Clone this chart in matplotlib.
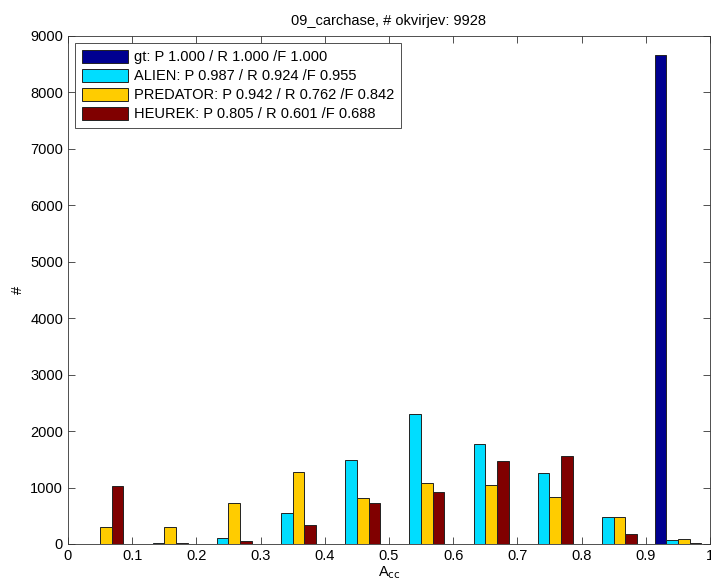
import numpy as np
import matplotlib
matplotlib.use("Agg")
import matplotlib.pyplot as plt

plt.rcParams['font.family'] = ['Liberation Sans', 'DejaVu Sans']

# --- data ------------------------------------------------------------------
bin_centers = [0.05, 0.15, 0.25, 0.35, 0.45, 0.55, 0.65, 0.75, 0.85, 0.95]
gt = [0, 0, 0, 0, 0, 0, 0, 0, 0, 8670]
alien = [5, 25, 100, 549, 1480, 2307, 1776, 1262, 482, 74]
predator = [307, 307, 732, 1276, 810, 1078, 1049, 836, 470, 92]
heurek = [1030, 20, 55, 331, 721, 918, 1474, 1556, 174, 10]

labels = [
    "gt: P 1.000 / R 1.000 /F 1.000",
    "ALIEN: P 0.987 / R 0.924 /F 0.955",
    "PREDATOR: P 0.942 / R 0.762 /F 0.842",
    "HEUREK: P 0.805 / R 0.601 /F 0.688",
]
colors = ["#000090", "#00DDFF", "#FFCC00", "#800000"]
title = "09_carchase, # okvirjev: 9928"
x_ticks = [0, 0.1, 0.2, 0.3, 0.4, 0.5, 0.6, 0.7, 0.8, 0.9, 1.0]
x_ticklabels = ["0", "0.1", "0.2", "0.3", "0.4", "0.5", "0.6", "0.7", "0.8", "0.9", "1"]
y_ticks = list(range(0, 9001, 1000))

# --- figure ------------------------------------------------------------------
fig = plt.figure(figsize=(7.11, 5.85), dpi=100)
ax = fig.add_axes([0.0956, 0.0701, 0.9030, 0.8684])

series = [gt, alien, predator, heurek]
n = len(series)
spacing = 0.1
group_w = spacing * n / (n + 1.5)  # MATLAB grouped-bar width
bar_w = group_w / n
centers = np.array(bin_centers)
for i, (vals, lab, col) in enumerate(zip(series, labels, colors)):
    offs = (i - (n - 1) / 2) * bar_w
    ax.bar(centers + offs, vals, width=bar_w, color=col, edgecolor="#222222",
           linewidth=0.7, label=lab)

ax.set_xlim(0, 1)
ax.set_ylim(0, 9000)
ax.set_xticks(x_ticks)
ax.set_xticklabels(x_ticklabels)
ax.set_yticks(y_ticks)
ax.tick_params(direction="in", top=True, right=True, labelsize=10.5, length=5,
               width=0.6, colors="#333333", labelcolor="black")
for s in ax.spines.values():
    s.set_linewidth(0.6)
    s.set_color("#333333")

ax.set_title(title, fontsize=10.5, pad=8)
ax.set_xlabel(r"A$_{\rm cc}$", fontsize=10.5, labelpad=1)
ax.set_ylabel("#", fontsize=10.5)

leg = ax.legend(loc="upper left", fontsize=10.5, handlelength=3.2, handleheight=1.0,
                borderaxespad=0.5, labelspacing=0.3, handletextpad=0.4,
                fancybox=False, framealpha=1, edgecolor="#333333",
                borderpad=0.45)
leg.get_frame().set_linewidth(0.6)

fig.savefig("out.png", dpi=100)
